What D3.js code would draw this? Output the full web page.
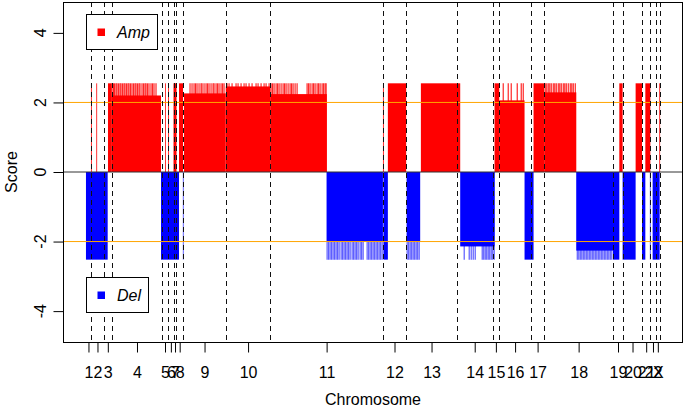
<!DOCTYPE html>
<html>
<head>
<meta charset="utf-8">
<script src="https://cdn.jsdelivr.net/npm/d3@7"></script>
<style>
  html, body { margin: 0; padding: 0; background: #fff; }
  svg { display: block; }
  text { font-family: "Liberation Sans", Arial, Helvetica, sans-serif; }
</style>
</head>
<body>
<svg id="chart" width="685" height="408"></svg>
<script>
// ---- data (genome position units, score) ----
const chromLabels = ["1","2","3","4","5","6","7","8","9","10","11","12","13","14","15","16","17","18","19","20","21","22","X"];
const chromEnds = [5,18,25.7,76.3,81.7,88,90,97.3,139.7,184.3,296.7,320,370.7,406.3,413,444.7,458,526.7,536.7,555.7,564,569.3,573.7];
const yTicks = [-4,-2,0,2,4];
const thresholds = [2,-2];

// solid amplification blocks: [start, end, score]
const ampSegments = [
  [22,25.7,2.55],[25.7,75,2.2],[87.5,90.5,2.55],[93,97,2.55],
  [98,139.7,2.26],[139.7,184.3,2.46],[184.3,240.7,2.24],
  [301.7,320,2.55],[334.7,374,2.55],[408.3,413,2.55],[413,438.3,2.06],
  [447.3,458,2.55],[458,490,2.29],[533,536.3,2.55],[549.3,555.7,2.55],[559,564,2.55]
];
// solid deletion blocks: [start, end, score]
const delSegments = [
  [0,21.7,-2.52],[75,93,-2.52],[240.7,296.7,-2.0],[297.3,301.7,-2.52],
  [320.7,334,-2.0],[374,408.3,-2.14],[438.3,447.3,-2.52],[490,526.7,-2.26],
  [526.7,533,-2.52],[536.3,549.3,-2.52],[555.7,559,-2.52],[566.3,573.3,-2.52]
];
// single probes reaching the extreme score
const ampPeak = 2.55, delPeak = -2.52;
const ampThin = [5.5,10.7,79.5,82.5,297.3,573.3];
const delThin = [97.3,564];
const ampSpikes = [
  26,27.5,28.5,30,31,32.5,34,35,36.5,38,39,40.5,42,43,44.5,46,47.5,49,50,51.5,53,54,56,57.5,59,60,61.5,63,65,66.5,68,70,
  104,106,108,109.5,111,113,115,116,118,120,121.5,123,125,127,128,130,131.5,133,135,136.5,138,
  141,143,146,150,152,155,158,160,163,166,170,172,175,178,180,183,
  185,186.5,188,190,191.5,193,195,197,198.5,200,202,204,205.5,207,209,211,221,222.5,224,226,227.5,229,231,232.5,234,236,237.5,239,240,
  417,422,425,431,435,437,
  459,460.5,462,463.5,465,467,468.5,470,472,473.5,475,477,478.5,480,482,484,485.5,487,489
];
const delSpikes = [
  241,242.5,244,245.5,247,248.5,250,251.5,253,255,256.5,258,259.5,261,262.5,264,266,267.5,269,270.5,272,274,275.5,277,281,282.5,284,285.5,287,288.5,290,291.5,293,294.5,296,
  321,322.5,324,325.5,327,328.5,330,331.5,333,
  378,383,385,387,389,396,397.5,399,400.5,402,403.5,405,406.5,408,
  491,492.5,494,495.5,497,498.5,500,501.5,503,504.5,506,507.5,509,510.5,512,513.5,515,516.5,518,519.5,521,522.5,524,525.5
];

// ---- layout ----
const svg = d3.select("#chart");
const L = 63, R = 683, T = 2, B = 342;
const xMax = chromEnds[chromEnds.length-1];
const x = d3.scaleLinear().domain([-0.04*xMax, 1.04*xMax]).range([L, R]);
const y = d3.scaleLinear().domain([-4.7*1.04, 4.7*1.04]).range([B, T]);

const plot = svg.append("g");
plot.append("clipPath").attr("id","clip").append("rect")
  .attr("x",L).attr("y",T).attr("width",R-L).attr("height",B-T);
const g = plot.append("g").attr("clip-path","url(#clip)");

const AMP = "#ff0000", DEL = "#0000ff";

// spikes (drawn first, lighter)
g.selectAll(".aspk").data(ampSpikes).enter().append("line")
  .attr("x1",d=>x(d)).attr("x2",d=>x(d)).attr("y1",y(0)).attr("y2",y(ampPeak))
  .attr("stroke",AMP).attr("stroke-width",1.2).attr("stroke-opacity",0.85);
g.selectAll(".dspk").data(delSpikes).enter().append("line")
  .attr("x1",d=>x(d)).attr("x2",d=>x(d)).attr("y1",y(0)).attr("y2",y(delPeak))
  .attr("stroke",DEL).attr("stroke-width",1.2).attr("stroke-opacity",0.65);
g.selectAll(".athin").data(ampThin).enter().append("line")
  .attr("x1",d=>x(d)).attr("x2",d=>x(d)).attr("y1",y(0)).attr("y2",y(ampPeak))
  .attr("stroke",AMP).attr("stroke-width",1).attr("stroke-opacity",0.8);
g.selectAll(".dthin").data(delThin).enter().append("line")
  .attr("x1",d=>x(d)).attr("x2",d=>x(d)).attr("y1",y(0)).attr("y2",y(delPeak))
  .attr("stroke",DEL).attr("stroke-width",1).attr("stroke-opacity",0.6);

// solid blocks
g.selectAll(".aseg").data(ampSegments).enter().append("rect")
  .attr("x",d=>x(d[0])).attr("width",d=>x(d[1])-x(d[0]))
  .attr("y",d=>y(d[2])).attr("height",d=>y(0)-y(d[2]))
  .attr("fill",AMP);
g.selectAll(".dseg").data(delSegments).enter().append("rect")
  .attr("x",d=>x(d[0])).attr("width",d=>x(d[1])-x(d[0]))
  .attr("y",y(0)).attr("height",d=>y(d[2])-y(0))
  .attr("fill",DEL);

// reference lines
g.append("line").attr("x1",L).attr("x2",R).attr("y1",y(0)).attr("y2",y(0))
  .attr("stroke","#333").attr("stroke-width",1);
g.selectAll(".thr").data(thresholds).enter().append("line")
  .attr("x1",L).attr("x2",R).attr("y1",d=>y(d)).attr("y2",d=>y(d))
  .attr("stroke","#ffa500").attr("stroke-width",1);
g.selectAll(".chr").data(chromEnds).enter().append("line")
  .attr("x1",d=>Math.round(x(d))+0.5).attr("x2",d=>Math.round(x(d))+0.5).attr("y1",T).attr("y2",B)
  .attr("stroke","#111").attr("stroke-width",1).attr("stroke-dasharray","5,4");

// box
svg.append("rect").attr("x",L+0.5).attr("y",T+0.5).attr("width",R-L-1).attr("height",B-T)
  .attr("fill","none").attr("stroke","#000").attr("stroke-width",1);

// axes
const mids = chromEnds.map((e,i)=> (i===0?0:chromEnds[i-1]) + (e-(i===0?0:chromEnds[i-1]))/2);
const xAxis = d3.axisBottom(x).tickValues(mids).tickFormat((d,i)=>chromLabels[i]).tickSize(10).tickPadding(14);
const xa = svg.append("g").attr("transform",`translate(0,${B+0.5})`).call(xAxis);
xa.select(".domain").remove();
xa.selectAll("text").attr("font-size",16).attr("fill","#000").attr("font-family",null);
xa.selectAll("line").attr("stroke","#000");

const yAxis = d3.axisLeft(y).tickValues(yTicks).tickFormat(d=>String(d)).tickSize(10);
const ya = svg.append("g").attr("transform",`translate(${L+0.5},0)`).call(yAxis);
ya.select(".domain").remove();
ya.selectAll("line").attr("stroke","#000");
ya.selectAll("text").remove();
svg.selectAll(".ylab").data(yTicks).enter().append("text")
  .attr("transform",d=>`translate(46,${y(d)}) rotate(-90)`)
  .attr("text-anchor","middle").attr("font-size",16).attr("fill","#000")
  .text(d=>String(d));

// axis titles
svg.append("text").attr("x",(L+R)/2).attr("y",405).attr("text-anchor","middle")
  .attr("font-size",16).text("Chromosome");
svg.append("text").attr("transform",`translate(17,${(T+B)/2}) rotate(-90)`)
  .attr("text-anchor","middle").attr("font-size",16).text("Score");

// legends
const legends = [
  {label:"Amp", color:AMP, x:86.5, y:14.5, w:71, h:35},
  {label:"Del", color:DEL, x:86.5, y:277.5, w:62, h:35}
];
legends.forEach(l=>{
  svg.append("rect").attr("x",l.x).attr("y",l.y).attr("width",l.w).attr("height",l.h)
    .attr("fill","#fff").attr("stroke","#000").attr("stroke-width",1);
  svg.append("rect").attr("x",l.x+11).attr("y",l.y+14).attr("width",7.5).attr("height",7.5).attr("fill",l.color);
  svg.append("text").attr("x",l.x+30.5).attr("y",l.y+23.5).attr("font-size",16)
    .attr("font-style","italic").text(l.label);
});
</script>
</body>
</html>
